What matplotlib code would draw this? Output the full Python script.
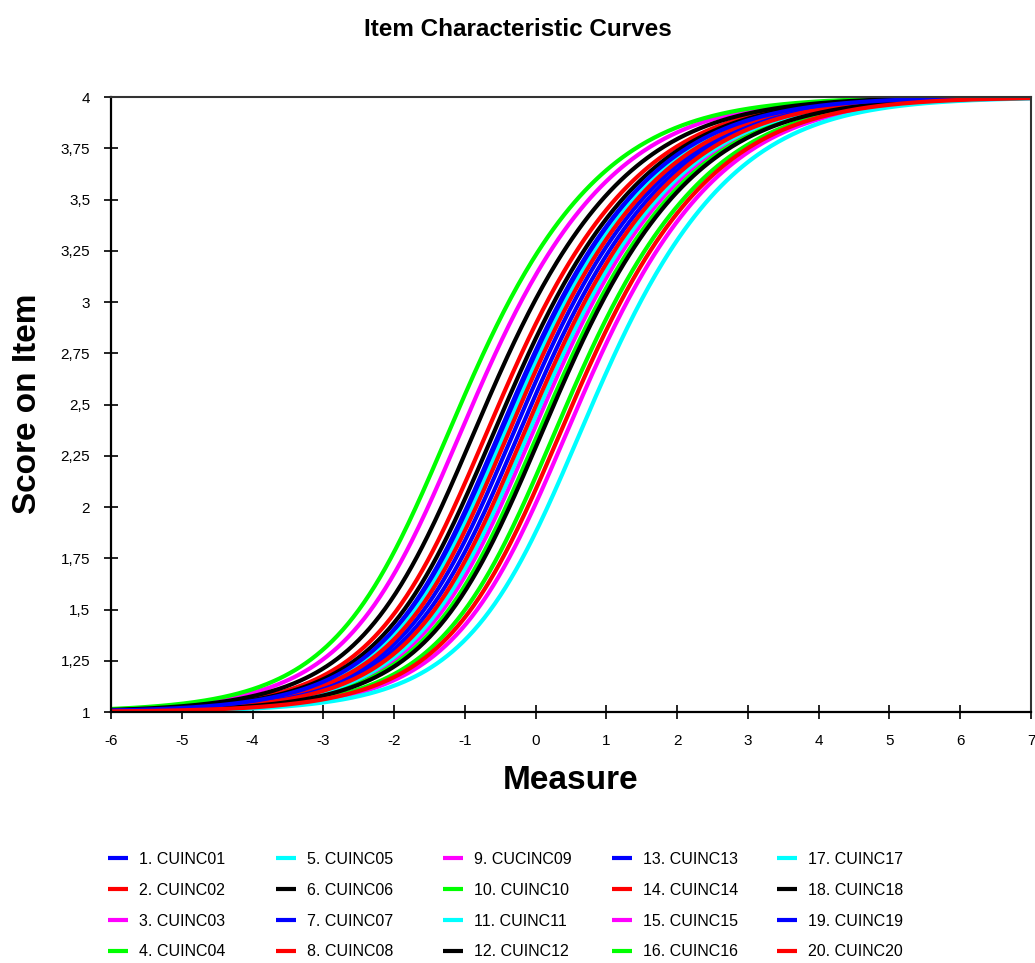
import numpy as np
import matplotlib
matplotlib.use("Agg")
import matplotlib.pyplot as plt
from matplotlib.ticker import FixedLocator, FuncFormatter

plt.rcParams['font.family'] = ['Liberation Sans', 'DejaVu Sans']

# Item labels and their line colours
item_labels = [
    "1. CUINC01", "2. CUINC02", "3. CUINC03", "4. CUINC04",
    "5. CUINC05", "6. CUINC06", "7. CUINC07", "8. CUINC08",
    "9. CUCINC09", "10. CUINC10", "11. CUINC11", "12. CUINC12",
    "13. CUINC13", "14. CUINC14", "15. CUINC15", "16. CUINC16",
    "17. CUINC17", "18. CUINC18", "19. CUINC19", "20. CUINC20",
]
item_colors = [
    "#0000FF", "#FF0000", "#FF00FF", "#00FF00", "#00FFFF", "#000000",
    "#0000FF", "#FF0000", "#FF00FF", "#00FF00", "#00FFFF", "#000000",
    "#0000FF", "#FF0000", "#FF00FF", "#00FF00", "#00FFFF", "#000000",
    "#0000FF", "#FF0000",
]

# Item difficulties (logits)
item_measures = [
    -0.23, -0.44, -0.81, -0.98, -0.18, -0.62, -0.06, -0.13,
    0.21, 0.29, 0.15, -0.34, 0.02, 0.09, 0.69, 0.52,
    0.88, 0.34, -0.26, 0.60,
]
# Rating-scale step calibrations shared by all items (4 categories, scored 1-4)
step_calibrations = [-0.80, -0.35, 1.15]

# Measure grid
measure_grid = np.linspace(-6, 7, 521)


def expected_score(theta, delta, taus):
    k = np.arange(len(taus) + 1)
    cum = np.concatenate([[0.0], np.cumsum(taus)])
    logits = k[:, None] * (theta - delta)[None, :] - cum[:, None]
    logits -= logits.max(axis=0, keepdims=True)
    p = np.exp(logits)
    p /= p.sum(axis=0, keepdims=True)
    return 1 + (k[:, None] * p).sum(axis=0)


fig = plt.figure(figsize=(10.35, 9.63), dpi=100)
ax = fig.add_axes([111 / 1035, 1 - 712 / 963, 920 / 1035, 615 / 963])

handles = []
for lab, col, d in zip(item_labels, item_colors, item_measures):
    y = expected_score(measure_grid, d, step_calibrations)
    h, = ax.plot(measure_grid, y, color=col, lw=3.0, label=lab,
                 solid_capstyle='butt')
    handles.append(h)

ax.set_xlim(-6, 7)
ax.set_ylim(1, 4)
ax.xaxis.set_major_locator(FixedLocator(np.arange(-6, 8, 1)))
ax.yaxis.set_major_locator(FixedLocator(np.arange(1, 4.001, 0.25)))
ax.yaxis.set_major_formatter(FuncFormatter(lambda v, p: f"{v:g}".replace('.', ',')))
ax.xaxis.set_major_formatter(FuncFormatter(lambda v, p: f"{v:g}"))
ax.tick_params(direction='inout', length=10, width=1.2, labelsize=11,
               color='black')
ax.tick_params(axis='y', pad=10)
ax.tick_params(axis='x', pad=11)

for side in ['left', 'bottom']:
    ax.spines[side].set_linewidth(1.6)
    ax.spines[side].set_color('black')
for side in ['top', 'right']:
    ax.spines[side].set_linewidth(1.5)
    ax.spines[side].set_color('#333333')

fig.text(0.5, 1 - 29 / 963, "Item Characteristic Curves", ha='center',
         va='center', fontsize=17.5, fontweight='bold')
fig.text(28 / 1035, 1 - 404 / 963, "Score on Item", rotation=90, ha='center',
         va='center', fontsize=24, fontweight='bold')
fig.text(571 / 1035, 1 - 780 / 963, "Measure", ha='center', va='center',
         fontsize=24, fontweight='bold')

# Legend: five columns of four items each
col_x = [108, 276, 443, 612, 777]
for c in range(5):
    leg = fig.legend(handles[c * 4:(c + 1) * 4], item_labels[c * 4:(c + 1) * 4],
                     loc='upper left',
                     bbox_to_anchor=(col_x[c] / 1035, 1 - 852 / 963),
                     frameon=False, fontsize=11.5, handlelength=1.25,
                     handletextpad=0.69, labelspacing=0.99, borderpad=0,
                     borderaxespad=0)
    for lh in leg.get_lines():
        lh.set_linewidth(3.0)

fig.savefig("out.png", dpi=100)
